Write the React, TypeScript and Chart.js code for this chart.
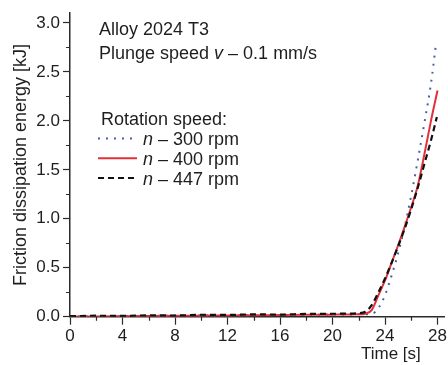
import React, { useEffect, useRef } from "react";
import { Chart, registerables } from "chart.js";

Chart.register(...registerables);

// ---- data ----
const time300 = [0, 2, 4, 6, 8, 10, 12, 14, 16, 18, 20, 22, 23, 23.5, 24, 24.5, 25, 25.5, 26, 26.5, 27, 27.5, 27.85];
const energy300 = [0, 0.004, 0.006, 0.008, 0.01, 0.012, 0.014, 0.016, 0.018, 0.02, 0.022, 0.024, 0.03, 0.09, 0.22, 0.42, 0.65, 0.92, 1.24, 1.6, 1.98, 2.38, 2.75];

const time400 = [0, 2, 4, 6, 8, 10, 12, 14, 16, 18, 20, 22, 22.5, 23, 23.5, 24, 24.5, 25, 25.5, 26, 26.5, 27, 27.5, 28];
const energy400 = [0, 0.003, 0.005, 0.007, 0.009, 0.011, 0.013, 0.015, 0.017, 0.019, 0.021, 0.024, 0.03, 0.07, 0.22, 0.37, 0.55, 0.73, 0.92, 1.12, 1.34, 1.66, 2.0, 2.31];

const time447 = [0, 2, 4, 6, 8, 10, 12, 14, 16, 18, 20, 22, 22.5, 23, 23.5, 24, 24.5, 25, 25.5, 26, 26.5, 27, 27.5, 27.95];
const energy447 = [0.005, 0.01, 0.008, 0.014, 0.012, 0.02, 0.018, 0.024, 0.022, 0.028, 0.03, 0.036, 0.05, 0.12, 0.25, 0.39, 0.55, 0.72, 0.9, 1.1, 1.32, 1.56, 1.8, 2.04];

const seriesLabels = ["300 rpm", "400 rpm", "447 rpm"];
const xTicks = [0, 4, 8, 12, 16, 20, 24, 28];
const xMinorTicks = [2, 6, 10, 14, 18, 22, 26];
const yTicks = [0, 0.5, 1, 1.5, 2, 2.5, 3];
const yMinorTicks = [0.25, 0.75, 1.25, 1.75, 2.25, 2.75];

const FONT = "'Liberation Sans', Arial, Helvetica, sans-serif";
const TEXT = "#1e1e1e";
const AXIS = "#2a2a2a";
const BLUE = "#4560a8";
const RED = "#e3303b";
const BLACK = "#111111";

const toPoints = (t: number[], e: number[]) => t.map((x, i) => ({ x, y: e[i] }));

const overlayPlugin = {
  id: "overlay",
  afterDraw(chart: any) {
    const ctx = chart.ctx as CanvasRenderingContext2D;
    const xs = chart.scales.x;
    const ys = chart.scales.y;
    const area = chart.chartArea;
    ctx.save();
    // minor ticks
    ctx.strokeStyle = AXIS;
    ctx.lineWidth = 1.2;
    ctx.beginPath();
    xMinorTicks.forEach((v) => {
      const px = Math.round(xs.getPixelForValue(v)) + 0.5;
      ctx.moveTo(px, area.bottom);
      ctx.lineTo(px, area.bottom + 4);
    });
    yMinorTicks.forEach((v) => {
      const py = Math.round(ys.getPixelForValue(v)) + 0.5;
      ctx.moveTo(area.left, py);
      ctx.lineTo(area.left - 4, py);
    });
    ctx.stroke();

    ctx.fillStyle = TEXT;
    ctx.textBaseline = "alphabetic";
    ctx.textAlign = "left";
    const normal = `18px ${FONT}`;
    const italic = `italic 18px ${FONT}`;

    // annotation
    ctx.font = normal;
    ctx.fillText("Alloy 2024 T3", 99, 35);
    let x = 99;
    const y2 = 59;
    ctx.fillText("Plunge speed ", x, y2);
    x += ctx.measureText("Plunge speed ").width;
    ctx.font = italic;
    ctx.fillText("v", x, y2);
    x += ctx.measureText("v").width;
    ctx.font = normal;
    ctx.fillText(" \u2013 0.1 mm/s", x, y2);

    // legend
    ctx.fillText("Rotation speed:", 101, 125);
    const rows = [138.5, 158.3, 178];
    const datasets = chart.data.datasets;
    rows.forEach((ry, i) => {
      const ds = datasets[i];
      ctx.save();
      ctx.strokeStyle = ds.borderColor;
      ctx.lineWidth = ds.borderWidth;
      ctx.setLineDash(ds.borderDash || []);
      ctx.lineCap = ds.borderCapStyle || "butt";
      ctx.beginPath();
      ctx.moveTo(98, ry);
      ctx.lineTo(137, ry);
      ctx.stroke();
      ctx.restore();
      let tx = 143;
      const ty = ry + 6.5;
      ctx.font = italic;
      ctx.fillText("n", tx, ty);
      tx += ctx.measureText("n").width;
      ctx.font = normal;
      ctx.fillText(" \u2013 " + ds.label, tx, ty);
    });

    // x axis title
    ctx.font = `17px ${FONT}`;
    ctx.fillText("Time [s]", 361, 359);
    ctx.restore();
  },
};

export default function App() {
  const ref = useRef<HTMLCanvasElement | null>(null);

  useEffect(() => {
    if (!ref.current) return;
    const chart = new Chart(ref.current, {
      type: "line",
      data: {
        datasets: [
          {
            label: seriesLabels[0],
            data: toPoints(time300, energy300),
            borderColor: BLUE,
            borderWidth: 2,
            borderDash: [2, 6],
            borderCapStyle: "butt",
            pointRadius: 0,
            cubicInterpolationMode: "monotone",
            order: 3,
          },
          {
            label: seriesLabels[1],
            data: toPoints(time400, energy400),
            borderColor: RED,
            borderWidth: 2,
            pointRadius: 0,
            cubicInterpolationMode: "monotone",
            order: 2,
          },
          {
            label: seriesLabels[2],
            data: toPoints(time447, energy447),
            borderColor: BLACK,
            borderWidth: 2.2,
            borderDash: [6, 4],
            pointRadius: 0,
            cubicInterpolationMode: "monotone",
            order: 1,
          },
        ],
      },
      options: {
        responsive: false,
        animation: false,
        devicePixelRatio: 1,
        layout: { padding: { left: 0, right: 1.5, top: 9.2, bottom: 0 } },
        plugins: { legend: { display: false }, tooltip: { enabled: false } },
        scales: {
          x: {
            type: "linear",
            min: 0,
            max: 28.5,
            afterFit: (s: any) => {
              s.height = 48.3;
            },
            afterBuildTicks: (s: any) => {
              s.ticks = xTicks.map((v) => ({ value: v }));
            },
            border: { display: true, color: AXIS, width: 1.5 },
            grid: { drawOnChartArea: false, drawTicks: true, tickLength: 8, tickColor: AXIS, tickWidth: 1.2 },
            ticks: { color: TEXT, font: { family: FONT, size: 17 }, padding: 1, maxRotation: 0, autoSkip: false },
          },
          y: {
            type: "linear",
            min: 0,
            max: 3.1,
            afterFit: (s: any) => {
              s.width = 70;
            },
            afterBuildTicks: (s: any) => {
              s.ticks = yTicks.map((v) => ({ value: v }));
            },
            border: { display: true, color: AXIS, width: 1.5 },
            grid: { drawOnChartArea: false, drawTicks: true, tickLength: 7, tickColor: AXIS, tickWidth: 1.2 },
            ticks: {
              color: TEXT,
              font: { family: FONT, size: 17 },
              padding: 3,
              autoSkip: false,
              callback: (v: any) => Number(v).toFixed(1),
            },
            title: {
              display: true,
              text: "Friction dissipation energy [kJ]",
              color: TEXT,
              font: { family: FONT, size: 18 },
              padding: { top: 10, bottom: 0 },
            },
          },
        },
      },
      plugins: [overlayPlugin],
    } as any);
    return () => chart.destroy();
  }, []);

  return (
    <div style={{ position: "fixed", left: 0, top: 0, width: 448, height: 365, background: "#fff" }}>
      <canvas ref={ref} width={448} height={365} style={{ display: "block" }} />
    </div>
  );
}
